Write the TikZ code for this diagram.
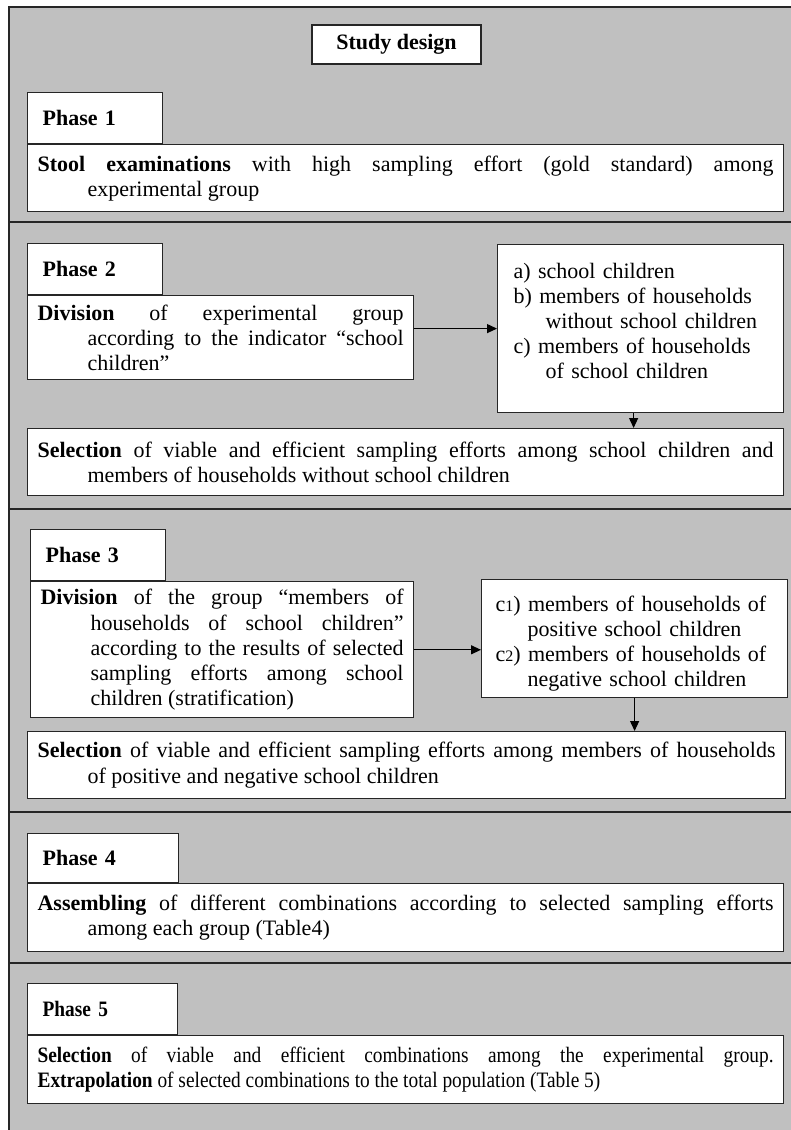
\documentclass[tikz,border=0pt]{standalone}
\usepackage{fontspec}
\setmainfont{Liberation Serif}
\newfontfamily\narrowfont[FakeStretch=0.88]{Liberation Serif}
\usetikzlibrary{positioning,arrows.meta}
\definecolor{panelgray}{RGB}{192,192,192}
\newcommand\hangfirst{\noindent\hangindent=25pt\hangafter=1 }
\newcommand\grpitem[2]{\par\noindent\hangindent=16pt\hangafter=1 #1 #2}
\tolerance=10000 \hbadness=10000
\begin{document}
\begin{tikzpicture}
[x=0.5pt,y=-0.5pt,
 every node/.style={font=\fontsize{11}{12.6}\selectfont},
 box/.style={draw=black!85,fill=white,line width=0.6pt,anchor=north west,
   inner xsep=5pt,inner ysep=3pt,align=justify},
 tab/.style={box,align=left,font=\bfseries\fontsize{11}{12.6}\selectfont,
   text width=52.5pt,inner xsep=7.5pt,minimum height=25.5pt},
 link/.style={-{Triangle[length=5pt,width=4.5pt]},line width=0.6pt}]
\useasboundingbox (0,0) rectangle (791,1130);
\fill [panelgray] (9,7) rectangle (791,1130);
\draw [line width=0.8pt,black!85] (9,1130) -- (9,7) -- (791,7);
\foreach \y in {222,509,812,963}
  \draw [line width=0.8pt,black!85] (9,\y) -- (791,\y);

\node [box,anchor=center,align=center,font=\bfseries\fontsize{11}{12.6}\selectfont,
  minimum width=84.5pt,minimum height=19.5pt] (title) at (396.5,44.5) {Study design};

% phase 1
\node [tab] (p1tab) at (27,92) {Phase 1};
\node [box,text width=368pt,minimum height=33.5pt] (p1text) at (p1tab.south west)
  {\hangfirst\textbf{Stool examinations} with high sampling effort (gold standard) among\linebreak
   experimental group\par};

% phase 2
\node [tab] (p2tab) at (27,243) {Phase 2};
\node [box,text width=183pt,minimum height=42pt] (p2div) at (p2tab.south west)
  {\hangfirst\textbf{Division} of experimental group\linebreak
   according to the indicator “school\linebreak children”\par};
\node [box,align=left,text width=127pt,inner xsep=8pt,minimum height=84pt] (p2groups) at (497,244)
  {\grpitem{a)}{school children}%
   \grpitem{b)}{members of households\newline without school children}%
   \grpitem{c)}{members of households\newline of school children\rule[-12.8pt]{0pt}{12.8pt}}\par};
\node [box,text width=368pt,minimum height=33.5pt] (p2sel) at (27,428)
  {\hangfirst\textbf{Selection} of viable and efficient sampling efforts among school children and\linebreak
   members of households without school children\par};
\draw [link] (p2div.east |- p2groups.west) -- (p2groups.west);
\draw [link] ([xshift=-3.5pt]p2groups.south) -- ([xshift=-3.5pt]p2groups.south |- p2sel.north);

% phase 3
\node [tab] (p3tab) at (30,529) {Phase 3};
\node [box,text width=181.5pt,minimum height=68pt] (p3div) at (p3tab.south west)
  {\hangfirst\textbf{Division} of the group “members of\linebreak
   households of school children”\linebreak
   according to the results of selected\linebreak
   sampling efforts among school\linebreak children (stratification)\par};
\node [box,align=left,text width=139pt,inner xsep=7pt,minimum height=59pt] (p3groups) at (481,579)
  {\grpitem{c{\footnotesize 1})}{members of households of\newline positive school children}%
   \grpitem{c{\footnotesize 2})}{members of households of\newline negative school children}\par};
\node [box,text width=369pt,minimum height=33.5pt] (p3sel) at (27,731)
  {\hangfirst\textbf{Selection} of viable and efficient sampling efforts among members of households\linebreak
   of positive and negative school children\par};
\draw [link] (p3div.east) -- (p3div.east -| p3groups.west);
\draw [link] (p3groups.south) -- (p3groups.south |- p3sel.north);

% phase 4
\node [tab,text width=60.5pt,minimum height=24.5pt] (p4tab) at (27,833) {Phase 4};
\node [box,text width=368pt,minimum height=34pt] (p4text) at (p4tab.south west)
  {\hangfirst\textbf{Assembling} of different combinations according to selected sampling efforts\linebreak
   among each group (Table4)\par};

% phase 5
\node [tab,text width=60pt,minimum height=25.5pt,
  font=\narrowfont\bfseries\fontsize{11}{12.6}\selectfont] (p5tab) at (27,983) {Phase 5};
\node [box,text width=368pt,minimum height=34pt,font=\narrowfont\fontsize{11}{12.6}\selectfont]
  (p5text) at (p5tab.south west)
  {\noindent\textbf{Selection} of viable and efficient combinations among the experimental group.\linebreak
   \textbf{Extrapolation} of selected combinations to the total population (Table 5)\par};
\end{tikzpicture}
\end{document}
